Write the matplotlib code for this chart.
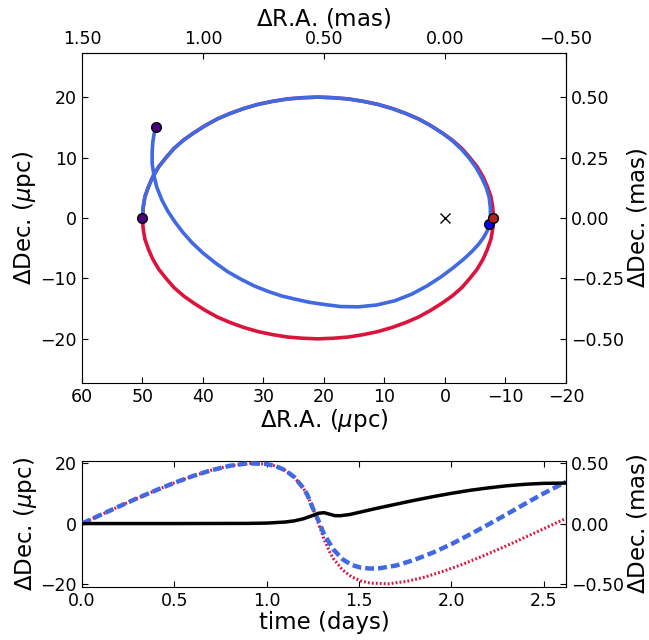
import matplotlib
matplotlib.use("Agg")
import matplotlib.pyplot as plt

plt.rcParams['font.family'] = ['DejaVu Sans']
plt.rcParams['xtick.direction'] = 'in'
plt.rcParams['ytick.direction'] = 'in'
plt.rcParams['xtick.major.size'] = 4
plt.rcParams['ytick.major.size'] = 4

# --- sky-plane orbits (micro-parsec) ---
red_ra = [50.0, 49.9, 49.6, 49.0, 48.3, 47.3, 46.1, 44.8, 43.2, 41.5, 39.6, 37.6, 35.5, 33.3,
          30.9, 28.5, 26.0, 23.5, 21.0, 18.5, 16.0, 13.5, 11.1, 8.7, 6.5, 4.4, 2.4, 0.5,
          -1.2, -2.8, -4.1, -5.3, -6.3, -7.0, -7.6, -7.9, -8.0,
          -7.9, -7.6, -7.0, -6.3, -5.3, -4.1, -2.8, -1.2, 0.5, 2.4, 4.4, 6.5, 8.7, 11.1, 13.5,
          16.0, 18.5, 21.0, 23.5, 26.0, 28.5, 30.9, 33.3, 35.5, 37.6, 39.6, 41.5, 43.2, 44.8,
          46.1, 47.3, 48.3, 49.0, 49.6, 49.9, 50.0]
red_dec = [0.0, 1.7, 3.5, 5.2, 6.8, 8.5, 10.0, 11.5, 12.9, 14.1, 15.3, 16.4, 17.3, 18.1,
           18.8, 19.3, 19.7, 19.9, 20.0, 19.9, 19.7, 19.3, 18.8, 18.1, 17.3, 16.4, 15.3, 14.1,
           12.9, 11.5, 10.0, 8.5, 6.8, 5.2, 3.5, 1.7, 0.0,
           -1.7, -3.5, -5.2, -6.8, -8.5, -10.0, -11.5, -12.9, -14.1, -15.3, -16.4, -17.3, -18.1,
           -18.8, -19.3, -19.7, -19.9, -20.0, -19.9, -19.7, -19.3, -18.8, -18.1, -17.3, -16.4,
           -15.3, -14.1, -12.9, -11.5, -10.0, -8.5, -6.8, -5.2, -3.5, -1.7, 0.0]

blue_ra = [50.0, 49.9, 49.6, 49.0, 48.3, 47.3, 46.1, 44.8, 43.2, 41.5, 39.6, 37.6, 35.5, 33.3,
           30.9, 28.5, 26.0, 23.5, 21.0, 18.5, 16.0, 13.5, 11.1, 8.7, 6.5, 4.4, 2.4, 0.5,
           -1.2, -2.7, -4.0, -5.1, -6.0, -6.8, -7.3, -7.5, -7.5, -7.35, -7.0, -6.4, -5.6, -4.5,
           -3.1, -1.4, 0.6, 2.9, 5.5, 8.3, 11.3, 14.3, 17.3, 20.0, 22.4, 24.7, 27.0, 29.1,
           31.4, 33.6, 35.9, 38.0, 40.0, 41.8, 43.3, 44.6, 45.8, 46.8, 47.6, 48.1, 48.4, 48.4,
           48.3, 48.1, 47.8]
blue_dec = [0.0, 1.7, 3.5, 5.2, 6.8, 8.5, 10.0, 11.5, 12.9, 14.1, 15.3, 16.4, 17.3, 18.1,
            18.8, 19.3, 19.7, 19.9, 20.0, 19.9, 19.7, 19.3, 18.8, 18.1, 17.3, 16.4, 15.3, 14.1,
            12.8, 11.4, 9.9, 8.4, 6.8, 5.1, 3.4, 1.7, 0.3, -1.0, -2.1, -3.2, -4.3, -5.5,
            -6.8, -8.2, -9.7, -11.2, -12.6, -13.7, -14.4, -14.7, -14.65, -14.3, -13.95, -13.45,
            -12.9, -12.2, -11.3, -10.2, -8.9, -7.4, -5.8, -4.1, -2.4, -0.7, 1.1, 3.0, 5.0, 7.0,
            9.0, 10.9, 12.5, 13.8, 15.0]

start_pt = (50.0, 0.0)
end_pt = (47.8, 15.0)
red_now = (-8.0, 0.0)
blue_now = (-7.35, -1.0)
center_pt = (0.0, 0.0)

# --- Dec. versus time ---
t_red = [0.0, 0.1, 0.2, 0.3, 0.4, 0.5, 0.6, 0.7, 0.8, 0.9, 1.0, 1.05, 1.1, 1.15, 1.2, 1.22,
         1.25, 1.28, 1.31, 1.34, 1.36, 1.41, 1.46, 1.51, 1.56, 1.66, 1.76, 1.86, 1.96, 2.06,
         2.16, 2.26, 2.36, 2.46, 2.56, 2.62]
dec_red = [0.0, 2.84, 5.65, 8.39, 11.0, 13.48, 15.71, 17.64, 19.11, 19.93, 19.71, 18.99, 17.64,
           15.33, 11.5, 9.32, 5.15, 0.0, -5.15, -9.32, -11.5, -15.33, -17.64, -18.99, -19.71,
           -19.93, -19.11, -17.64, -15.71, -13.48, -11.0, -8.39, -5.65, -2.84, 0.0, 1.71]

t_blue = [0.0, 0.1, 0.2, 0.3, 0.4, 0.5, 0.6, 0.7, 0.8, 0.9, 1.0, 1.05, 1.1, 1.15, 1.2, 1.22,
          1.25, 1.28, 1.31, 1.36, 1.41, 1.46, 1.51, 1.56, 1.61, 1.7, 1.8, 1.9, 2.0, 2.1, 2.2,
          2.3, 2.4, 2.5, 2.62]
dec_blue = [0.0, 2.84, 5.65, 8.39, 11.0, 13.48, 15.71, 17.64, 19.11, 19.93, 19.71, 18.99, 17.64,
            15.33, 11.6, 9.5, 5.0, 1.0, -3.5, -8.5, -11.8, -13.7, -14.6, -14.9, -14.8, -13.9,
            -12.0, -9.6, -6.8, -3.6, -0.3, 3.1, 6.6, 10.0, 13.8]

t_sep = [0.0, 0.5, 0.9, 1.0, 1.1, 1.15, 1.2, 1.25, 1.28, 1.31, 1.34, 1.37, 1.4, 1.45, 1.5,
         1.6, 1.7, 1.8, 1.9, 2.0, 2.1, 2.2, 2.3, 2.4, 2.5, 2.62]
sep = [0.0, 0.0, 0.05, 0.15, 0.5, 0.9, 1.6, 2.7, 3.4, 3.6, 3.1, 2.6, 2.6, 3.0, 3.7, 5.1, 6.4,
       7.7, 8.9, 10.0, 11.0, 11.8, 12.5, 13.0, 13.3, 13.4]

PC_PER_MAS = 40.0
TICK_FS = 12.5
LABEL_FS = 16.5

fig = plt.figure(figsize=(6.49, 6.40), dpi=100)

# top panel: orbits on the sky
ax1 = fig.add_axes([0.1263, 0.4016, 0.7458, 0.5156])
ax1.plot(red_ra, red_dec, color='crimson', lw=2.6, zorder=2)
ax1.plot(blue_ra, blue_dec, color='royalblue', lw=2.6, zorder=3)
ax1.plot(*center_pt, marker='x', color='k', ms=7, mew=1, zorder=4)
ax1.plot(*start_pt, 'o', color='indigo', mec='k', ms=7, zorder=5)
ax1.plot(*end_pt, 'o', color='indigo', mec='k', ms=7, zorder=5)
ax1.plot(*blue_now, 'o', color='blue', mec='k', ms=7, zorder=5)
ax1.plot(*red_now, 'o', color='firebrick', mec='k', ms=7, zorder=6)
ax1.set_xlim(60, -20)
ax1.set_ylim(-27.3, 27.3)
ax1.set_xticks([60, 50, 40, 30, 20, 10, 0, -10, -20])
ax1.set_yticks([-20, -10, 0, 10, 20])
ax1.tick_params(top=False, right=False, labelsize=TICK_FS)
ax1.set_xlabel(r'$\Delta$R.A. ($\mu$pc)', fontsize=LABEL_FS, labelpad=1)
ax1.set_ylabel(r'$\Delta$Dec. ($\mu$pc)', fontsize=LABEL_FS, labelpad=2)

top = ax1.secondary_xaxis('top', functions=(lambda x: x / PC_PER_MAS, lambda x: x * PC_PER_MAS))
top.set_xticks([1.5, 1.0, 0.5, 0.0, -0.5])
top.set_xticklabels(['1.50', '1.00', '0.50', '0.00', '\u22120.50'])
top.tick_params(labelsize=TICK_FS, direction='in')
top.set_xlabel(r'$\Delta$R.A. (mas)', fontsize=LABEL_FS, labelpad=3)

right = ax1.secondary_yaxis('right', functions=(lambda y: y / PC_PER_MAS, lambda y: y * PC_PER_MAS))
right.set_yticks([0.5, 0.25, 0.0, -0.25, -0.5])
right.set_yticklabels(['0.50', '0.25', '0.00', '\u22120.25', '\u22120.50'])
right.tick_params(labelsize=TICK_FS, direction='in')
right.set_ylabel(r'$\Delta$Dec. (mas)', fontsize=LABEL_FS, labelpad=1)

# bottom panel: Dec. versus time
ax2 = fig.add_axes([0.1263, 0.0828, 0.7458, 0.1969])
ax2.plot(t_red, dec_red, color='crimson', lw=2.2, ls=(0, (0.6, 0.7)), zorder=2)
ax2.plot(t_blue, dec_blue, color='royalblue', lw=3.2, ls=(0, (2, 0.9)), zorder=3)
ax2.plot(t_sep, sep, color='k', lw=2.5, zorder=4)
ax2.set_xlim(0, 2.62)
ax2.set_ylim(-21, 20.7)
ax2.set_xticks([0.0, 0.5, 1.0, 1.5, 2.0, 2.5])
ax2.set_yticks([-20, 0, 20])
ax2.tick_params(top=True, right=False, labelsize=TICK_FS)
ax2.set_xlabel('time (days)', fontsize=LABEL_FS, labelpad=1)
ax2.set_ylabel(r'$\Delta$Dec. ($\mu$pc)', fontsize=LABEL_FS, labelpad=1)

right2 = ax2.secondary_yaxis('right', functions=(lambda y: y / PC_PER_MAS, lambda y: y * PC_PER_MAS))
right2.set_yticks([0.5, 0.0, -0.5])
right2.set_yticklabels(['0.50', '0.00', '\u22120.50'])
right2.tick_params(labelsize=TICK_FS, direction='in')
right2.set_ylabel(r'$\Delta$Dec. (mas)', fontsize=LABEL_FS, labelpad=1)

fig.savefig('out.png', dpi=100)
